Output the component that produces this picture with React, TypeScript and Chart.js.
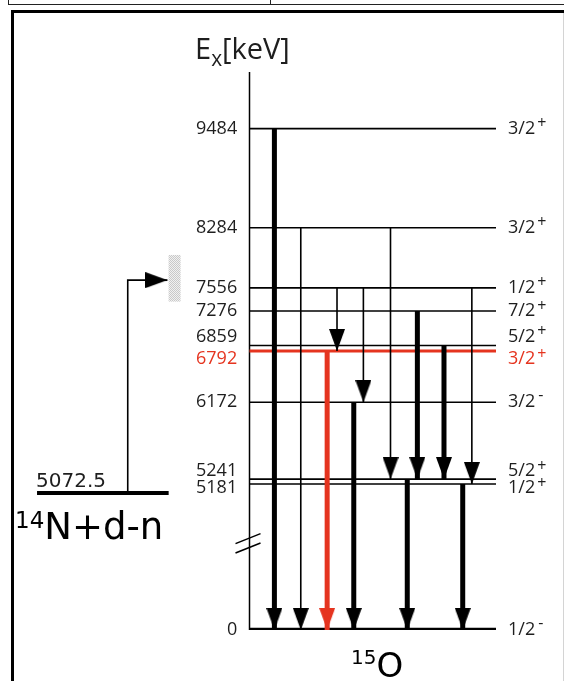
import React, { useEffect, useRef } from 'react';
import { Chart, registerables, LinearScale } from 'chart.js';

Chart.register(...registerables);

// ---------------- data ----------------
const LEVEL_ENERGIES = [9484, 8284, 7556, 7276, 6859, 6792, 6172, 5241, 5181, 0];
const LEVEL_SPINS = ['3/2', '3/2', '1/2', '7/2', '5/2', '3/2', '3/2', '5/2', '1/2', '1/2'];
const LEVEL_PARITY = ['+', '+', '+', '+', '+', '+', '-', '+', '+', '-'];
const HIGHLIGHT_LEVEL = 6792;

const GAMMA_FROM = [9484, 8284, 6792, 7556, 6172, 7556, 8284, 5241, 7276, 6859, 5181, 7556];
const GAMMA_TO = [0, 0, 0, 6792, 0, 6172, 5241, 0, 5241, 5241, 0, 5181];
const GAMMA_STRONG = [true, false, true, false, true, false, false, true, true, true, true, false];

const THRESHOLD_ENERGY = 5072.5; // 14N + d - n
const BEAM_WINDOW = [7390, 7955];
const BEAM_ENERGY = 7650;

const AXIS_BREAK = [1050, 4464];
const Y_MAX = 10170;

// ---------------- layout (x data units: axis at 0, level lines 0..100) ----------------
const X_RANGE = [-97.57, 100];
const LEVEL_SPAN = [0, 100];
const GAMMA_X = [10.1, 20.8, 31.5, 35.5, 42.3, 46.2, 57.2, 64.0, 68.1, 78.9, 86.5, 90.2];
const THRESHOLD_SPAN = [-86.2, -32.8];
const FEED_X = -49.4;
const FEED_TIP_X = -33.3;
const WINDOW_X = -30.4;
const LABEL_ANCHOR_X = -5;
const LABEL_NUDGE: Record<number, number> = { 6859: -9, 6792: 8, 5241: -8, 5181: 4 };

const BLACK = '#000000';
const RED = '#e5341f';
const TEXT = '#1e1e1e';
const TICK_FAMILY = "'Open Sans', 'DejaVu Sans', sans-serif";
const TICK_SIZE = 18;
const SPIN_PAD = 12;

const squeeze = (v: number) =>
  v <= AXIS_BREAK[0] ? v : v >= AXIS_BREAK[1] ? v - (AXIS_BREAK[1] - AXIS_BREAK[0]) : AXIS_BREAK[0];

class BrokenLinearScale extends LinearScale {
  static id = 'brokenLinear';
  static defaults = LinearScale.defaults;
  getPixelForValue(value: number) {
    const lo = squeeze(this.min);
    const hi = squeeze(this.max);
    return this.getPixelForDecimal((squeeze(value) - lo) / (hi - lo));
  }
  getValueForPixel(pixel: number) {
    const lo = squeeze(this.min);
    const hi = squeeze(this.max);
    const t = lo + this.getDecimalForPixel(pixel) * (hi - lo);
    return t <= AXIS_BREAK[0] ? t : t + (AXIS_BREAK[1] - AXIS_BREAK[0]);
  }
}
Chart.register(BrokenLinearScale as any);

function makeHead(color: string, w = 16, h = 22) {
  const c = document.createElement('canvas');
  c.width = w;
  c.height = h * 2;
  const g = c.getContext('2d')!;
  g.fillStyle = color;
  g.beginPath();
  g.moveTo(0, 0);
  g.lineTo(w, 0);
  g.lineTo(w / 2, h);
  g.closePath();
  g.fill();
  return c;
}

function makeStipple(target: HTMLCanvasElement) {
  const c = document.createElement('canvas');
  c.width = 2;
  c.height = 2;
  const g = c.getContext('2d')!;
  g.fillStyle = '#f1f1f1';
  g.fillRect(0, 0, 2, 2);
  g.fillStyle = '#c9c9c9';
  g.fillRect(0, 0, 1, 1);
  g.fillRect(1, 1, 1, 1);
  return target.getContext('2d')!.createPattern(c, 'repeat');
}

const breakMarks = {
  id: 'breakMarks',
  afterDatasetsDraw(chart: any) {
    const { ctx, scales } = chart;
    const cx = scales.x.getPixelForValue(0);
    const cy = scales.y.getPixelForValue(AXIS_BREAK[0]);
    ctx.save();
    ctx.strokeStyle = BLACK;
    ctx.lineWidth = 1.5;
    for (const dy of [-4.7, 4.7]) {
      ctx.beginPath();
      ctx.moveTo(cx - 14, cy + dy + 5);
      ctx.lineTo(cx + 11, cy + dy - 5);
      ctx.stroke();
    }
    ctx.restore();
  },
};

// superscript parity signs after the spin labels of the right axis
const paritySigns = {
  id: 'paritySigns',
  afterDraw(chart: any) {
    const { ctx, scales } = chart;
    const s = scales.y2;
    ctx.save();
    ctx.textAlign = 'left';
    ctx.textBaseline = 'middle';
    LEVEL_ENERGIES.forEach((e, i) => {
      ctx.font = `${TICK_SIZE}px ${TICK_FAMILY}`;
      const w = ctx.measureText(LEVEL_SPINS[i]).width;
      const y = s.getPixelForValue(e) + (LABEL_NUDGE[e] || 0);
      const x = s.left + SPIN_PAD + w + 2;
      ctx.font = `16px ${TICK_FAMILY}`;
      ctx.fillStyle = e === HIGHLIGHT_LEVEL ? RED : TEXT;
      if (LEVEL_PARITY[i] === '+') ctx.fillText('+', x, y - 5);
      else ctx.fillText('-', x + 1, y - 7);
    });
    ctx.restore();
  },
};

const levelTicks = (scale: any) => {
  scale.ticks = LEVEL_ENERGIES.map((v) => ({ value: v }));
};
const nudged = (text: string, value: number) => {
  const n = LABEL_NUDGE[value];
  if (!n) return text;
  return n < 0 ? [text, ''] : ['', text];
};
const tickFont = (c: any) => {
  const n = c.tick ? LABEL_NUDGE[c.tick.value] : undefined;
  return { family: TICK_FAMILY, size: TICK_SIZE, lineHeight: n ? `${Math.abs(n) * 2}px` : 1.2 };
};
const tickColor = (c: any) => (c.tick && c.tick.value === HIGHLIGHT_LEVEL ? RED : TEXT);

export default function App() {
  const ref = useRef<HTMLCanvasElement>(null);

  useEffect(() => {
    const canvas = ref.current!;
    const headBlack = makeHead(BLACK);
    const headRed = makeHead(RED);
    const stipple = makeStipple(canvas);
    const pt = (x: number, y: number) => ({ x, y });
    const datasets: any[] = [];

    // vertical energy axis
    datasets.push({ data: [pt(0, 0), pt(0, Y_MAX)], borderColor: BLACK, borderWidth: 1.5, order: 3 });

    // levels of 15O
    LEVEL_ENERGIES.forEach((e) => {
      datasets.push({
        data: [pt(LEVEL_SPAN[0], e), pt(LEVEL_SPAN[1], e)],
        borderColor: e === HIGHLIGHT_LEVEL ? RED : BLACK,
        borderWidth: e === 0 ? 4.3 : e === HIGHLIGHT_LEVEL ? 3 : 1.6,
        order: e === HIGHLIGHT_LEVEL ? 1.5 : 2,
      });
    });

    // gamma transitions
    GAMMA_FROM.forEach((from, i) => {
      const red = from === HIGHLIGHT_LEVEL;
      datasets.push({
        data: [pt(GAMMA_X[i], from), pt(GAMMA_X[i], GAMMA_TO[i])],
        borderColor: red ? RED : BLACK,
        borderWidth: GAMMA_STRONG[i] ? 5 : 1.6,
        pointStyle: red ? headRed : headBlack,
        pointRadius: (c: any) => (c.dataIndex === 1 ? 4 : 0),
        order: 1,
      });
    });

    // 14N + d - n threshold level
    datasets.push({
      data: [pt(THRESHOLD_SPAN[0], THRESHOLD_ENERGY), pt(THRESHOLD_SPAN[1], THRESHOLD_ENERGY)],
      borderColor: BLACK,
      borderWidth: 4,
      order: 2,
    });

    // feeding arrow
    datasets.push({
      data: [pt(FEED_X, THRESHOLD_ENERGY), pt(FEED_X, BEAM_ENERGY), pt(FEED_TIP_X, BEAM_ENERGY)],
      borderColor: BLACK,
      borderWidth: 1.6,
      borderJoinStyle: 'miter',
      pointStyle: headBlack,
      pointRotation: -90,
      pointRadius: (c: any) => (c.dataIndex === 2 ? 4 : 0),
      order: 1,
    });

    // beam energy window
    datasets.push({
      data: [pt(WINDOW_X, BEAM_WINDOW[0]), pt(WINDOW_X, BEAM_WINDOW[1])],
      borderColor: stipple,
      borderWidth: 12,
      order: 4,
    });

    const chart = new Chart(canvas, {
      type: 'line',
      data: { datasets },
      options: {
        animation: false,
        responsive: false,
        devicePixelRatio: 1,
        events: [],
        layout: { padding: { left: 8, right: 0, top: 72, bottom: 51 } },
        plugins: { legend: { display: false }, tooltip: { enabled: false } },
        elements: {
          point: { radius: 0, hoverRadius: 0 },
          line: { tension: 0, fill: false, borderCapStyle: 'butt' },
        },
        scales: {
          x: { type: 'linear', min: X_RANGE[0], max: X_RANGE[1], display: false },
          y: {
            type: 'brokenLinear',
            min: 0,
            max: Y_MAX,
            position: { x: LABEL_ANCHOR_X },
            grid: { display: false, drawTicks: false },
            border: { display: false },
            afterBuildTicks: levelTicks,
            ticks: {
              autoSkip: false,
              padding: 0,
              color: tickColor,
              font: tickFont,
              callback: (v: any) => nudged(String(v), Number(v)),
            },
          },
          y2: {
            type: 'brokenLinear',
            axis: 'y',
            position: 'right',
            min: 0,
            max: Y_MAX,
            grid: { display: false, drawTicks: false },
            border: { display: false },
            afterBuildTicks: levelTicks,
            afterFit: (s: any) => {
              s.width = 68;
            },
            ticks: {
              autoSkip: false,
              padding: SPIN_PAD,
              color: tickColor,
              font: tickFont,
              callback: (v: any) => nudged(LEVEL_SPINS[LEVEL_ENERGIES.indexOf(Number(v))], Number(v)),
            },
          },
        } as any,
      },
      plugins: [breakMarks, paritySigns],
    } as any);

    return () => chart.destroy();
  }, []);

  const abs = (s: React.CSSProperties): React.CSSProperties => ({ position: 'absolute', ...s });

  return (
    <div style={abs({ left: 0, top: 0, width: 564, height: 681, overflow: 'hidden', background: '#fff' })}>
      <div style={abs({ left: 8, top: 4, width: 556, height: 1, background: '#222' })} />
      <div style={abs({ left: 8, top: 0, width: 1, height: 5, background: '#222' })} />
      <div style={abs({ left: 270, top: 0, width: 1, height: 5, background: '#222' })} />
      <div
        style={abs({
          left: 11,
          top: 10,
          width: 570,
          height: 690,
          borderTop: '3px solid #000',
          borderLeft: '3px solid #000',
          boxSizing: 'border-box',
        })}
      />
      <div style={abs({ left: 563, top: 13, width: 1, height: 668, background: '#d4d4d4' })} />
      <canvas ref={ref} width={564} height={681} style={abs({ left: 0, top: 0 })} />

      <div
        style={abs({
          left: 195,
          top: 33,
          fontFamily: TICK_FAMILY,
          fontSize: 29,
          lineHeight: 1,
          color: TEXT,
          whiteSpace: 'nowrap',
        })}
      >
        E<span style={{ fontSize: '0.72em', position: 'relative', top: '0.35em' }}>x</span>[keV]
      </div>

      <div
        style={abs({
          left: 36,
          top: 470,
          fontFamily: "'DejaVu Sans', sans-serif",
          fontSize: 20,
          lineHeight: 1,
          color: TEXT,
          whiteSpace: 'nowrap',
        })}
      >
        5072.5
      </div>

      <div
        style={abs({
          left: 15,
          top: 508,
          fontFamily: "'DejaVu Sans', sans-serif",
          fontSize: 37,
          lineHeight: 1,
          color: BLACK,
          whiteSpace: 'nowrap',
        })}
      >
        <span style={{ fontSize: 23, position: 'relative', top: -11 }}>14</span>N+d-n
      </div>

      <div
        style={abs({
          left: 351,
          top: 648,
          fontFamily: "'DejaVu Sans', sans-serif",
          fontSize: 34,
          lineHeight: 1,
          color: BLACK,
          whiteSpace: 'nowrap',
        })}
      >
        <span style={{ fontSize: 20, position: 'relative', top: -13 }}>15</span>O
      </div>
    </div>
  );
}
